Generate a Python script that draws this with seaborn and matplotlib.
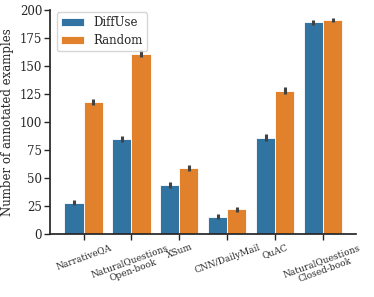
import matplotlib
matplotlib.use("Agg")
import matplotlib.pyplot as plt
import seaborn as sns
import pandas as pd

tasks = ["NarrativeQA", "NaturalQuestions\nOpen-book", "XSum", "CNN/DailyMail",
         "QuAC", "NaturalQuestions\nClosed-book"]
methods = ["DiffUse", "Random"]
diffuse_vals = [28, 85, 44, 15.5, 86, 189]
random_vals = [118, 161, 59, 22, 128, 191]
diffuse_err = [2.5, 3, 2.5, 2, 3, 2]
random_err = [3, 3, 3, 2, 3, 2]

df = pd.DataFrame({
    "task": tasks * 2,
    "method": ["DiffUse"] * len(tasks) + ["Random"] * len(tasks),
    "value": diffuse_vals + random_vals,
    "err": diffuse_err + random_err,
})

sns.set_theme(style="ticks")
plt.rcParams["font.family"] = ["DejaVu Serif"]

fig, ax = plt.subplots(figsize=(3.74, 2.97), dpi=100)
sns.barplot(data=df, x="task", y="value", hue="method", hue_order=methods,
            palette="tab10", errorbar=None, ax=ax, edgecolor="white", linewidth=0.6)

for cont, m in zip(ax.containers, methods):
    sub = df[df.method == m]
    xs = [p.get_x() + p.get_width() / 2 for p in cont.patches]
    ax.errorbar(xs, sub["value"].values, yerr=sub["err"].values, fmt="none",
                ecolor="#424242", elinewidth=2.2, capsize=0, zorder=5)

sns.despine(ax=ax)
ax.set_xlabel("")
ax.set_ylabel("Number of annotated examples", fontsize=8.5, labelpad=4)
ax.set_ylim(0, 200)
ax.set_yticks([0, 25, 50, 75, 100, 125, 150, 175, 200])
ax.tick_params(axis="y", labelsize=8.5, length=4, pad=2, width=1)
ax.tick_params(axis="x", labelsize=6.5, length=4, pad=2, width=1)
for lab in ax.get_xticklabels():
    lab.set_rotation(20)
    lab.set_ha("center")
ax.legend(title=None, loc="upper left", fontsize=8.5, borderaxespad=0,
          bbox_to_anchor=(0.02, 0.99), labelspacing=0.4, borderpad=0.35)
fig.subplots_adjust(left=0.135, right=0.952, top=0.966, bottom=0.212)
fig.savefig("out.png", dpi=100)
